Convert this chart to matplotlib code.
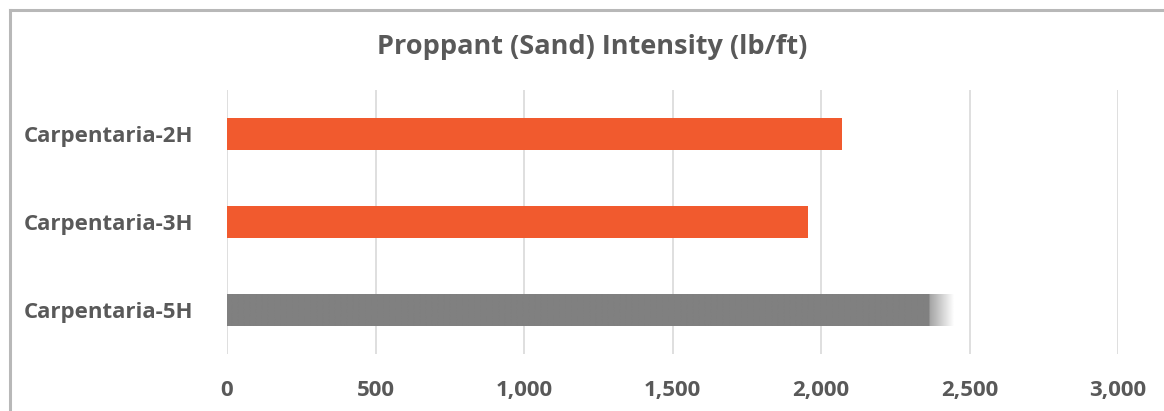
import matplotlib
matplotlib.use("Agg")
import matplotlib.pyplot as plt
import numpy as np
from matplotlib.lines import Line2D

categories = ["Carpentaria-2H", "Carpentaria-3H", "Carpentaria-5H"]
values = [2070, 1955, 2450]
fade_start = 2365  # where the gray bar starts fading
ticks = [0, 500, 1000, 1500, 2000, 2500, 3000]
tick_labels = ["0", "500", "1,000", "1,500", "2,000", "2,500", "3,000"]
title = "Proppant (Sand) Intensity (lb/ft)"

plt.rcParams['font.family'] = ['Open Sans', 'DejaVu Sans']
txt_color = "#595959"

fig = plt.figure(figsize=(11.64, 4.11), dpi=100)
ax = fig.add_axes([227/1164, 1-354/411, (1118-227)/1164, (354-90)/411])

ypos = np.arange(len(categories))
colors = ["#F15A2E", "#F15A2E", "none"]
bars = ax.barh(ypos, values, height=0.36, color=colors, zorder=3)

# gradient fill for the third bar
b = bars[2]
grad = np.ones((1, 400, 4))
grad[..., :3] = 128/255
xs = np.linspace(0, values[2], 400)
alpha = np.clip(1 - (xs - fade_start) / (values[2] - fade_start), 0, 1)
alpha = np.where(xs < fade_start, 1.0, 0.75 * alpha)
grad[0, :, 3] = alpha
y0 = b.get_y(); h = b.get_height()
im = ax.imshow(grad, extent=[0, values[2], y0 + h, y0], aspect='auto', zorder=3,
               interpolation='bilinear')
im.set_clip_path(b)

ax.set_xlim(0, 3000)
ax.set_ylim(2.5, -0.5)
ax.set_xticks(ticks)
ax.set_xticklabels(tick_labels)
ax.set_yticks(ypos)
ax.set_yticklabels(categories)
ax.xaxis.grid(True, color="#d9d9d9", linewidth=1.2, zorder=0)
for s in ax.spines.values():
    s.set_visible(False)
ax.tick_params(axis='both', length=0, colors=txt_color, labelsize=16)
ax.tick_params(axis='x', pad=19)
ax.tick_params(axis='y', pad=24)
for lab in ax.get_xticklabels() + ax.get_yticklabels():
    lab.set_fontweight('bold')
    lab.set_color(txt_color)

fig.text(592/1164, 1-47/411, title, ha='center', va='center', fontsize=19.5,
         fontweight='bold', color=txt_color)

# outer frame (only top and left visible)
fx = 9.5/1164
fy = 1 - 10.5/411
fig.add_artist(Line2D([fx, 1.0], [fy, fy], transform=fig.transFigure,
                      color="#b8b8b8", linewidth=2.2))
fig.add_artist(Line2D([fx, fx], [0, fy], transform=fig.transFigure,
                      color="#b8b8b8", linewidth=2.2))

fig.savefig("out.png", dpi=100)
